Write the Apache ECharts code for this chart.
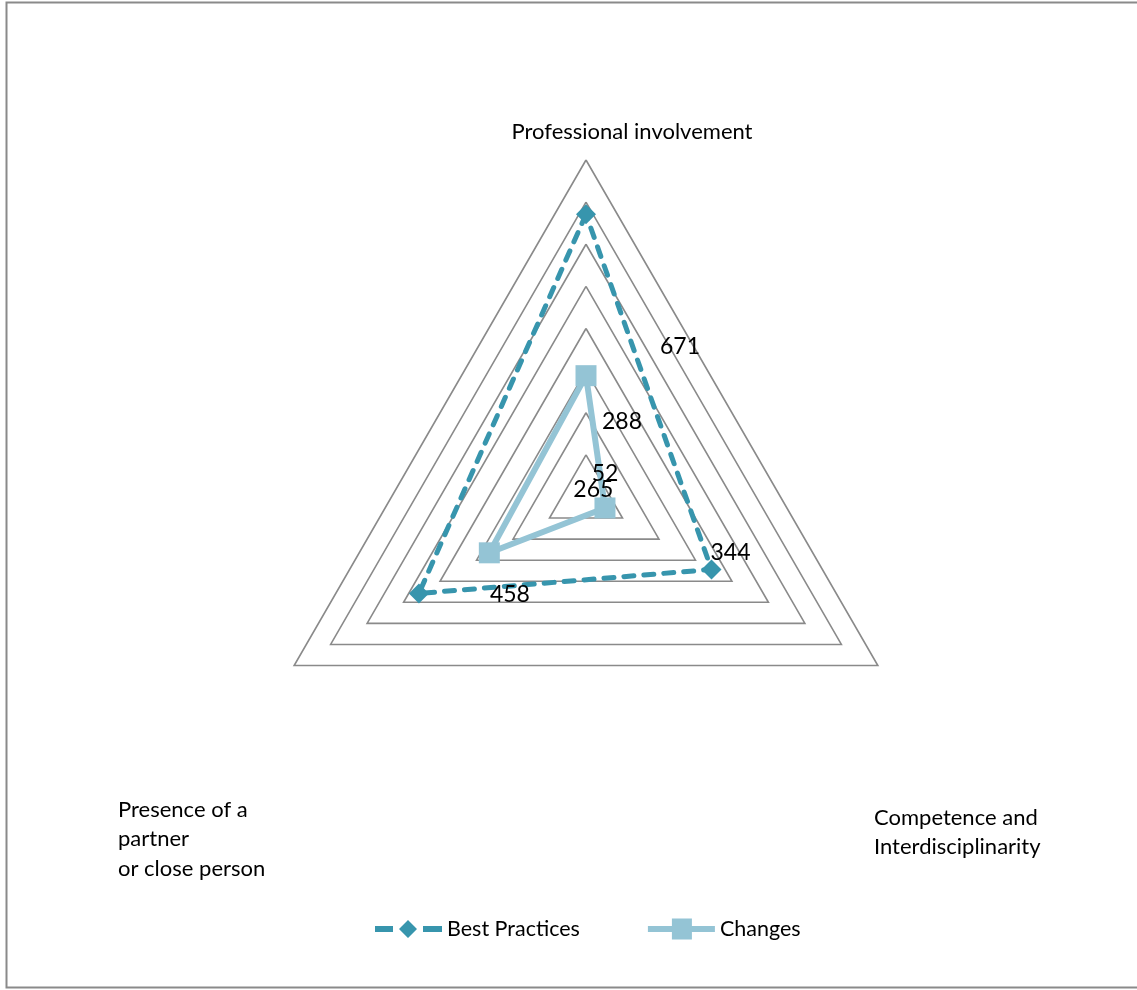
<!DOCTYPE html>
<html>
<head>
<meta charset="utf-8">
<script src="https://cdn.jsdelivr.net/npm/echarts@6/dist/echarts.min.js"></script>
<style>
  html, body { margin: 0; padding: 0; background: #fff; }
  #chart { width: 1137px; height: 990px; }
</style>
</head>
<body>
<div id="chart"></div>
<script>
// data, in the order of the original sheet (clockwise from top)
const categories = ['Professional involvement', 'Competence and\nInterdisciplinarity', 'Presence of a\npartner\nor close person'];
const seriesNames = ['Best Practices', 'Changes'];
const bestPractices = [671, 344, 458];
const changes = [288, 52, 265];
const axisMax = 800;
const axisStep = 100;

// echarts goes counter-clockwise, so swap the two bottom corners
const order = [0, 2, 1];

// excel left its data labels away from the points, keep them there
const bestLabelOffsets = [[94, 132], [19, -17], [91, 1]];
const changesLabelOffsets = [[36, 46], [0, -34], [104, -63]];

// category names sit outside the radar in the original
const namePlaces = [
  { x: 632, y: 132, align: 'center', valign: 'middle' },
  { x: 874, y: 803, align: 'left', valign: 'top' },
  { x: 118, y: 795, align: 'left', valign: 'top' }
];

const colBest = '#3795ad';
const colChanges = '#94c4d5';
const font = 'Lato';

const iconBest = 'path://M0,5h18v6h-18z M24,8L33,-1L42,8L33,17z M48,5h19v6h-19z';
const iconChanges = 'path://M0,7.5h67v6h-67z M24,0h20v21h-20z';

// invisible copy of a series, only used to place one label per corner
function labelSeries(values, offsets) {
  const vals = order.map(i => values[i]);
  return {
    type: 'radar',
    silent: true,
    z: 5,
    symbol: 'circle',
    symbolSize: 1,
    itemStyle: { color: 'rgba(0,0,0,0)' },
    lineStyle: { opacity: 0 },
    data: order.map(i => ({
      value: vals,
      label: {
        show: true,
        position: 'inside',
        offset: offsets[i],
        color: '#000',
        fontFamily: font,
        fontSize: 23,
        formatter: p => (p.value === values[i] ? String(values[i]) : '')
      }
    }))
  };
}

const chart = echarts.init(document.getElementById('chart'));

chart.setOption({
  animation: false,
  backgroundColor: '#fff',
  legend: {
    left: 370,
    top: 913,
    itemWidth: 67,
    itemHeight: 21,
    itemGap: 68,
    selectedMode: false,
    textStyle: { color: '#000', fontFamily: font, fontSize: 21.5 },
    data: [
      { name: seriesNames[0], icon: iconBest, itemStyle: { color: colBest, borderWidth: 0 } },
      { name: seriesNames[1], icon: iconChanges, itemStyle: { color: colChanges, borderWidth: 0 } }
    ]
  },
  radar: {
    center: [586, 497],
    radius: 337,
    startAngle: 90,
    shape: 'polygon',
    splitNumber: axisMax / axisStep,
    indicator: order.map(i => ({ name: categories[i], min: 0, max: axisMax })),
    axisName: { show: false },
    axisLine: { show: false },
    axisTick: { show: false },
    axisLabel: { show: false },
    splitArea: { show: false },
    splitLine: { lineStyle: { color: '#8a8a8a', width: 1.6 } }
  },
  graphic: [
    {
      type: 'rect',
      silent: true,
      shape: { x: 6.5, y: 2.5, width: 1200, height: 985 },
      style: { fill: 'none', stroke: '#8a8a8a', lineWidth: 2 }
    }
  ].concat(categories.map((name, i) => ({
    type: 'text',
    silent: true,
    x: namePlaces[i].x,
    y: namePlaces[i].y,
    style: {
      text: name,
      fill: '#000',
      font: '22px ' + font,
      lineHeight: 29.5,
      textAlign: namePlaces[i].align,
      textVerticalAlign: namePlaces[i].valign
    }
  }))),
  series: [
    {
      type: 'radar',
      z: 2,
      symbol: 'diamond',
      symbolSize: 20,
      itemStyle: { color: colBest },
      lineStyle: { color: colBest, width: 5, type: [10, 10], cap: 'round' },
      data: [{ name: seriesNames[0], value: order.map(i => bestPractices[i]) }]
    },
    {
      type: 'radar',
      z: 3,
      symbol: 'rect',
      symbolSize: 21,
      itemStyle: { color: colChanges },
      lineStyle: { color: colChanges, width: 6 },
      data: [{ name: seriesNames[1], value: order.map(i => changes[i]) }]
    },
    labelSeries(bestPractices, bestLabelOffsets),
    labelSeries(changes, changesLabelOffsets)
  ]
});

window.addEventListener('resize', () => chart.resize());
</script>
</body>
</html>
